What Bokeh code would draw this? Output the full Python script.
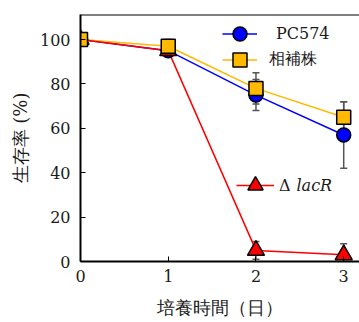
from bokeh.plotting import figure
from bokeh.models import (ColumnDataSource, Whisker, Legend, LegendItem, Label,
                          Span, FixedTicker, Range1d, TeeHead)
from bokeh.embed import file_html
from bokeh.resources import INLINE

# ---- data ----
days = [0, 1, 2, 3]
pc574 = [100, 95, 75, 57]
pc574_err = [0, 2, 7, 15]
comp = [100, 97, 78, 65]
comp_err = [0, 3, 7, 7]
lacr = [100, 95, 5, 3]
lacr_err = [0, 2, 4, 5]
y_ticks = [0, 20, 40, 60, 80, 100]
x_ticks = [0, 1, 2, 3]

FONT = "DejaVu Serif"
TXT = "#1a1a1a"
BLUE = "#0000ff"
ORANGE = "#ffb900"
RED = "#ff0000"
Y_TOP = 111.3
X_END = 3.18

p = figure(width=359, height=322, x_range=Range1d(0, X_END), y_range=Range1d(0, Y_TOP),
           output_backend="svg", toolbar_location=None,
           min_border_left=80, min_border_right=0, min_border_top=14, min_border_bottom=61)
p.outline_line_color = None
p.grid.visible = False
p.background_fill_color = "white"

for ax in (p.xaxis[0], p.yaxis[0]):
    ax.axis_line_width = 2
    ax.axis_line_color = "black"
    ax.major_tick_in = 5
    ax.major_tick_out = 0
    ax.major_tick_line_width = 1
    ax.minor_tick_line_color = None
    ax.major_label_text_font = FONT
    ax.major_label_text_font_size = "16px"
    ax.major_label_text_color = TXT
    ax.axis_label_text_font = FONT
    ax.axis_label_text_font_size = "18px"
    ax.axis_label_text_font_style = "normal"
    ax.axis_label_text_color = TXT

p.xaxis.ticker = FixedTicker(ticks=x_ticks)
p.yaxis.ticker = FixedTicker(ticks=y_ticks)
p.xaxis.major_label_standoff = 8
p.yaxis.major_label_standoff = 10
p.yaxis.axis_label = "生存率 (%)"
p.yaxis.axis_label_standoff = 6
p.xaxis.axis_label = "培養時間（日）"
p.xaxis.axis_label_standoff = 12

p.add_layout(Span(location=Y_TOP, dimension="width", line_color="black", line_width=2))

def whisker(vals, errs):
    src = ColumnDataSource(dict(x=days, upper=[v + e for v, e in zip(vals, errs)],
                                lower=[v - e for v, e in zip(vals, errs)]))
    w = Whisker(source=src, base="x", upper="upper", lower="lower",
                line_color="#555555", line_width=1.5,
                upper_head=TeeHead(size=7, line_color="#555555", line_width=1.5),
                lower_head=TeeHead(size=7, line_color="#555555", line_width=1.5))
    p.add_layout(w)

whisker(pc574, pc574_err)
whisker(comp, comp_err)
whisker(lacr, lacr_err)

l_blue = p.line(days, pc574, line_color=BLUE, line_width=1.5)
l_org = p.line(days, comp, line_color=ORANGE, line_width=1.5)
l_red = p.line(days, lacr, line_color=RED, line_width=1.5)
s_blue = p.scatter(days, pc574, marker="circle", size=14, fill_color=BLUE,
                   line_color="black", line_width=1.5)
s_red = p.scatter(days, lacr, marker="triangle", size=17, fill_color=RED,
                  line_color="black", line_width=1.5)
s_org = p.scatter(days, comp, marker="square", size=14, fill_color=ORANGE,
                  line_color="black", line_width=1.5)

def legend(label, rends, loc, gw, gh, standoff):
    lg = Legend(items=[LegendItem(label=label, renderers=rends)],
                location=loc, padding=0, margin=0, spacing=0,
                glyph_width=gw, glyph_height=gh, label_height=gh, label_standoff=standoff,
                border_line_color=None, background_fill_alpha=0,
                label_text_font=FONT, label_text_font_size="16px",
                label_text_color=TXT, label_text_baseline="middle")
    p.add_layout(lg)

legend("PC574", [l_blue, s_blue], (142, 210), 35, 35, 19)
legend("相補株", [l_org, s_org], (142, 184), 35, 35, 12)
legend("Δ", [l_red, s_red], (156, 55), 38, 42, 5)

p.add_layout(Label(x=216, y=76, x_units="screen", y_units="screen", text="lacR",
                   text_font=FONT, text_font_size="16px", text_font_style="italic",
                   text_color=TXT, text_baseline="middle", text_align="left"))

open("out.html", "w").write(file_html(p, INLINE))
